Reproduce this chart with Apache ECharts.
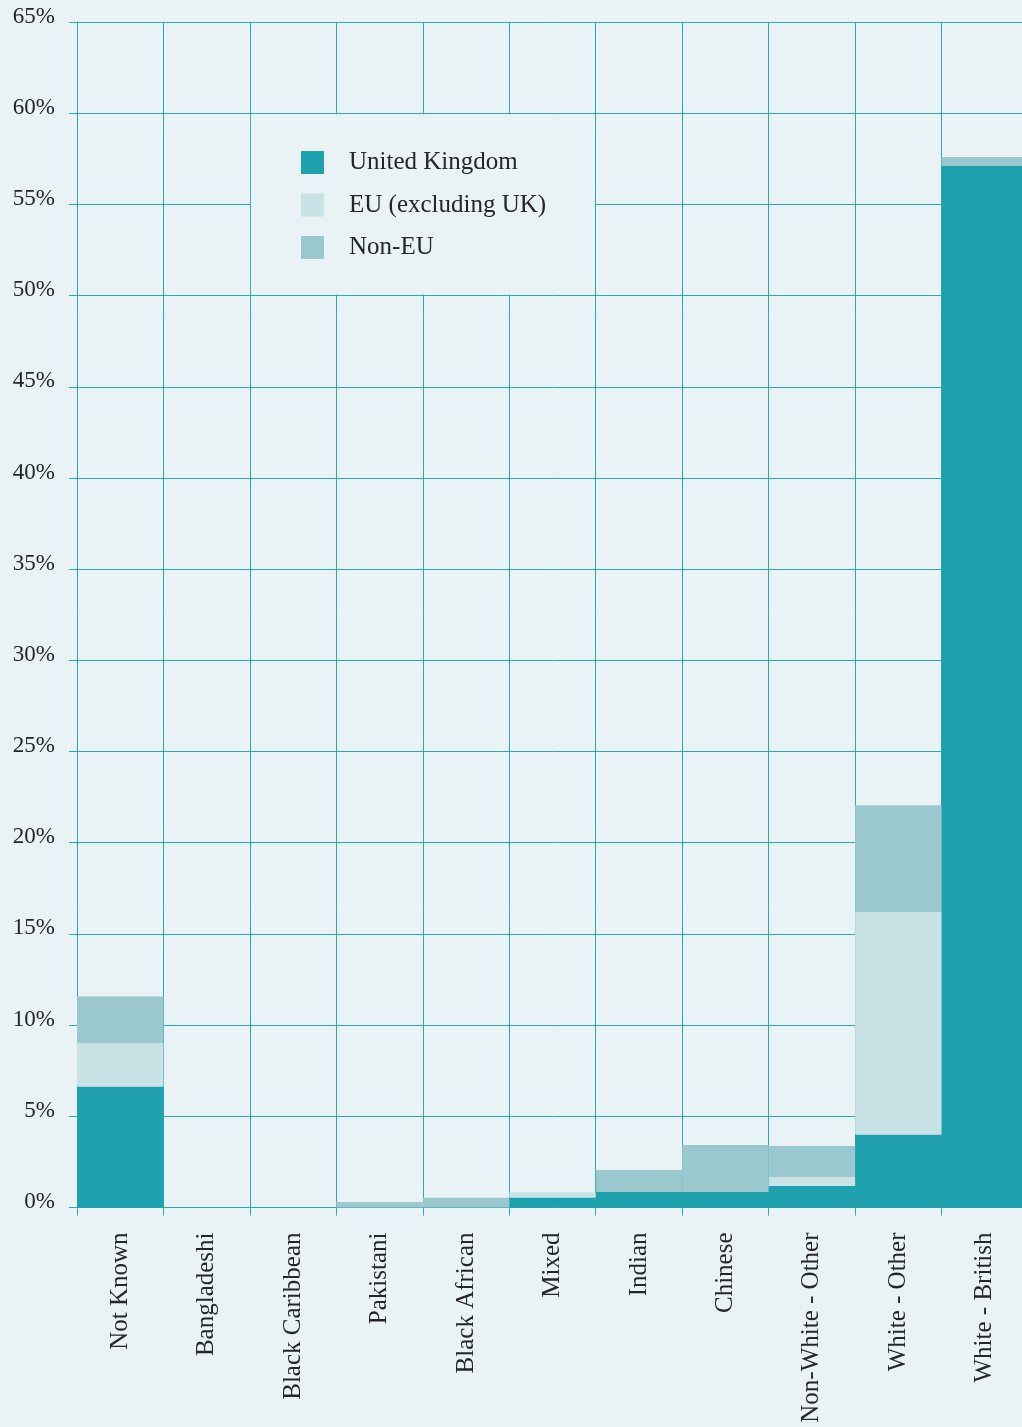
<!DOCTYPE html>
<html>
<head>
<meta charset="utf-8">
<style>
html,body{margin:0;padding:0;background:#E9F2F4;overflow:hidden;width:1022px;height:1427px;}
#c{width:1032px;height:1427px;}
</style>
<script src="https://cdn.jsdelivr.net/npm/echarts@6/dist/echarts.min.js"></script>
</head>
<body>
<div id="c"></div>
<script>
var categories = ['Not Known', 'Bangladeshi', 'Black Caribbean', 'Pakistani', 'Black African', 'Mixed', 'Indian', 'Chinese', 'Non-White - Other', 'White - Other', 'White - British'];
var ukValues    = [6.64, 0, 0, 0, 0, 0.55, 0.85, 0.85, 1.18, 4.0, 57.1];
var euValues    = [2.36, 0, 0, 0, 0, 0.27, 0, 0, 0.49, 12.2, 0];
var nonEuValues = [2.57, 0, 0, 0.3, 0.53, 0, 1.21, 2.58, 1.7, 5.85, 0.5];
var seriesNames = ['United Kingdom', 'EU (excluding UK)', 'Non-EU'];
var yTicks = [0, 5, 10, 15, 20, 25, 30, 35, 40, 45, 50, 55, 60, 65];

var BG = '#E9F2F4';
var LINE = '#2AA9B4';
var FONT = '"Liberation Serif", "DejaVu Serif", serif';
var TXT = '#262626';

var chart = echarts.init(document.getElementById('c'), null, {renderer: 'canvas'});
var option = {
  backgroundColor: BG,
  animation: false,
  color: ['#1FA0AD', '#C9E2E6', '#9AC8CE'],
  grid: {left: 77, top: 22, width: 951, bottom: 219.5, containLabel: false},
  legend: {
    orient: 'vertical',
    left: 301,
    top: 150,
    itemWidth: 23,
    itemHeight: 23,
    itemGap: 17.5,
    icon: 'rect',
    selectedMode: false,
    padding: 0,
    z: 10,
    textStyle: {fontFamily: FONT, fontSize: 25, lineHeight: 23, color: TXT, padding: [0, 0, 0, 20]},
    data: seriesNames
  },
  xAxis: {
    type: 'category',
    data: categories,
    boundaryGap: true,
    axisLine: {show: true, lineStyle: {color: LINE, width: 1}},
    axisTick: {show: true, length: 8, lineStyle: {color: LINE}, interval: 0},
    splitLine: {show: true, interval: 0, lineStyle: {color: LINE, width: 1}},
    axisLabel: {
      interval: 0, rotate: 90, margin: 25,
      fontFamily: FONT, fontSize: 25, color: TXT
    }
  },
  yAxis: {
    type: 'value',
    min: yTicks[0],
    max: yTicks[yTicks.length - 1],
    interval: 5,
    axisLine: {show: true, lineStyle: {color: LINE, width: 1}},
    axisTick: {show: true, length: 8, lineStyle: {color: LINE}},
    splitLine: {show: true, lineStyle: {color: LINE, width: 1}},
    axisLabel: {
      margin: 22, fontFamily: FONT, fontSize: 23, lineHeight: 23, color: TXT,
      formatter: function (v) { return v + '%'; },
      verticalAlign: 'bottom', padding: [0, 0, -6, 0]
    }
  },
  series: [
    {name: seriesNames[0], type: 'bar', stack: 'all', data: ukValues, barCategoryGap: '0%', barWidth: '100%'},
    {name: seriesNames[1], type: 'bar', stack: 'all', data: euValues, barCategoryGap: '0%', barWidth: '100%'},
    {name: seriesNames[2], type: 'bar', stack: 'all', data: nonEuValues, barCategoryGap: '0%', barWidth: '100%'}
  ]
};
chart.setOption(option);

// legend background box, aligned with the grid cells (categories 2..5, 50%..60%)
var p0 = chart.convertToPixel({gridIndex: 0}, [0, 0]);
var p1 = chart.convertToPixel({gridIndex: 0}, [1, 0]);
var band = p1[0] - p0[0];
var a = chart.convertToPixel({gridIndex: 0}, [categories[2], 60]);
var b = chart.convertToPixel({gridIndex: 0}, [categories[5], 50]);
var x0 = a[0] - band / 2, x1 = b[0] + band / 2;
chart.setOption({
  graphic: [{
    type: 'rect', z: 5, silent: true,
    shape: {x: x0 + 1, y: a[1] + 1, width: x1 - x0 - 2, height: b[1] - a[1] - 2},
    style: {fill: BG}
  }]
});
</script>
</body>
</html>
